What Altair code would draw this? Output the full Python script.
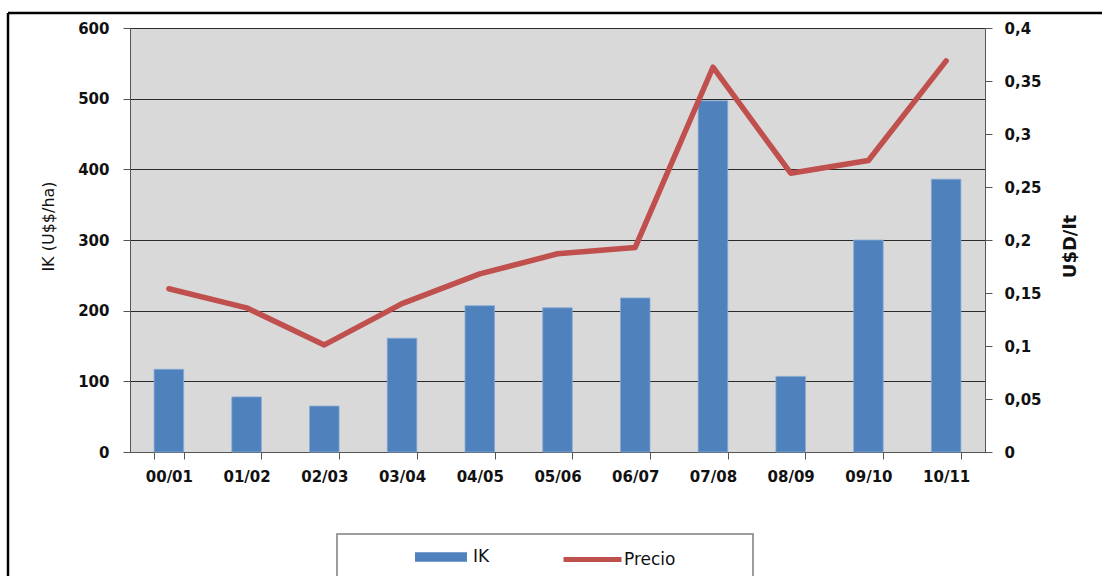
import altair as alt
import pandas as pd

# Campaign seasons on the x axis
campanas = ["00/01", "01/02", "02/03", "03/04", "04/05", "05/06",
            "06/07", "07/08", "08/09", "09/10", "10/11"]
# IK index, U$$/ha (left axis, bars)
ik = [117, 78, 65, 161, 207, 204, 218, 497, 107, 300, 386]
# Milk price, U$D/lt (right axis, line)
precio = [0.154, 0.136, 0.101, 0.140, 0.168, 0.187, 0.193, 0.363, 0.263, 0.275, 0.369]

df = pd.DataFrame({"campana": campanas, "ik": ik, "precio": precio})

W, H = 855, 424
TICK_FONT = "DejaVu Sans"
comma = "replace(format(datum.value, ''), '.', ',')"

x_enc = alt.X(
    "campana:N", sort=campanas, title=None,
    scale=alt.Scale(paddingInner=0.62, paddingOuter=0.31),
    axis=alt.Axis(labelAngle=0, tickBand="extent", tickSize=7, labelPadding=10,
                  labelFont=TICK_FONT, labelFontSize=15, labelFontWeight="bold",
                  labelColor="#111", domainColor="#555", tickColor="#555"),
)

bars = alt.Chart(df).transform_calculate(serie="'IK'").mark_bar(
    stroke="#86A9D6", strokeWidth=0.8
).encode(
    x=x_enc,
    y=alt.Y("ik:Q", scale=alt.Scale(domain=[0, 600], nice=False),
            axis=alt.Axis(values=[0, 100, 200, 300, 400, 500, 600], title="IK (U$$/ha)",
                          grid=True, gridColor="#2b2b2b", gridWidth=1,
                          tickSize=7, labelPadding=14, domainColor="#555", tickColor="#555",
                          labelFont=TICK_FONT, labelFontSize=15, labelFontWeight="bold",
                          labelColor="#111",
                          titleFont="DejaVu Sans", titleFontSize=16, titleFontWeight="normal",
                          titleColor="#111", titleAngle=270, titleBaseline="middle",
                          titleX=-82, titleY=198)),
    color=alt.Color("serie:N", scale=alt.Scale(domain=["IK"], range=["#4F81BD"]),
                    legend=alt.Legend(title=None, orient="none", legendX=285, legendY=503,
                                      symbolType="M-1,-0.18H1V0.18H-1Z", symbolSize=2704,
                                      symbolStrokeWidth=0, symbolOpacity=1,
                                      labelFont="DejaVu Sans", labelFontSize=17,
                                      labelBaseline="middle",
                                      labelColor="#111", labelOffset=6)),
)

line = alt.Chart(df).transform_calculate(serie="'Precio'").mark_line(
    strokeWidth=5.5, strokeCap="round", strokeJoin="round"
).encode(
    x=alt.X("campana:N", sort=campanas),
    y=alt.Y("precio:Q", scale=alt.Scale(domain=[0, 0.4], nice=False),
            axis=alt.Axis(orient="right", values=[0, 0.05, 0.1, 0.15, 0.2, 0.25, 0.3, 0.35, 0.4],
                          labelExpr=comma, title="U$D/lt", grid=False,
                          tickSize=7, labelPadding=12, domainColor="#555", tickColor="#555",
                          labelFont=TICK_FONT, labelFontSize=15, labelFontWeight="bold",
                          labelColor="#111",
                          titleFont="DejaVu Sans", titleFontSize=18, titleFontWeight="bold",
                          titleColor="#111", titleAngle=270, titleBaseline="middle",
                          titleX=85, titleY=218)),
    color=alt.Color("serie:N", scale=alt.Scale(domain=["Precio"], range=["#C0504D"]),
                    legend=alt.Legend(title=None, orient="none", legendX=431, legendY=500,
                                      symbolType="stroke", symbolSize=3364,
                                      symbolStrokeWidth=5, symbolOpacity=1,
                                      labelFont="DejaVu Sans", labelFontSize=17,
                                      labelBaseline="middle",
                                      labelColor="#111", labelOffset=0)),
)

one = alt.Data(values=[{}])

# Outer chart frame (top and left edges)
frame_top = alt.Chart(one).mark_rule(color="#000", strokeWidth=2.5, clip=False).encode(
    x=alt.value(-122), x2=alt.value(1000), y=alt.value(-15))
frame_left = alt.Chart(one).mark_rule(color="#000", strokeWidth=2.5, clip=False).encode(
    x=alt.value(-122), y=alt.value(-15), y2=alt.value(600))

# Box around the legend
legend_box = alt.Chart(one).mark_rect(fill="white", stroke="#7f7f7f", strokeWidth=1.5,
                                      clip=False).encode(
    x=alt.value(207), x2=alt.value(623), y=alt.value(506), y2=alt.value(600))

chart = alt.layer(
    legend_box, bars, line, frame_top, frame_left
).resolve_scale(
    y="independent", color="independent"
).properties(
    width=W, height=H,
    autosize=alt.AutoSizeParams(type="none"),
    padding={"left": 130, "top": 28, "right": 117, "bottom": 124},
    background="white",
).configure_view(
    fill="#D9D9D9", strokeOpacity=0
).configure_legend(
    padding=0
)

chart.save("out.html", embed_options={"renderer": "svg", "actions": False})
